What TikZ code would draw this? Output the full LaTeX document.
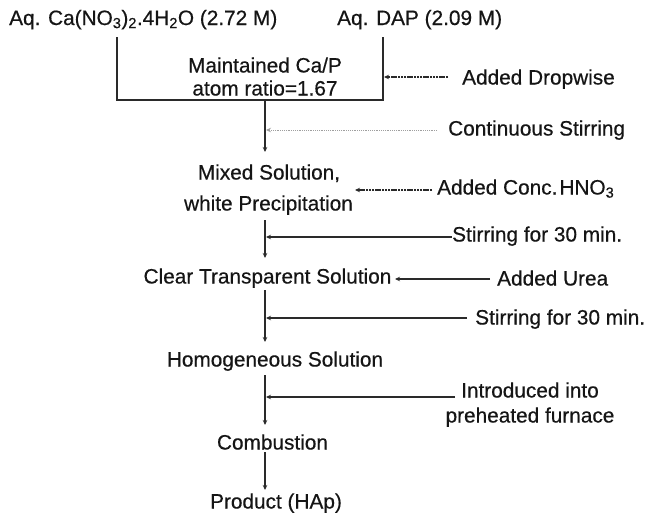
\documentclass[tikz,border=0pt]{standalone}
\usepackage{fontspec}
\setmainfont{Liberation Sans}[FakeBold=0.5]
\usetikzlibrary{arrows.meta}
\definecolor{ink}{HTML}{151515}
\definecolor{ln}{HTML}{2a2a2a}
\tikzset{
  lbl/.style={inner sep=0pt, anchor=base, text=ink, font=\fontsize{20.8}{24}\selectfont},
  lblw/.style={lbl, anchor=base west},
  conn/.style={draw=ln, line width=1.1pt},
  arr/.style={conn, -{Stealth[length=5pt,width=4.5pt]}},
  farr/.style={arr, dash pattern=on 2.5pt off 0.7pt},
  darr/.style={arr, draw=gray!75, line width=0.8pt, dash pattern=on 1.2pt off 1pt}
}
\begin{document}
\begin{tikzpicture}[x=1pt,y=-1pt]
\useasboundingbox (0,0) rectangle (645,515);
% top inputs
\node[lblw] (ca) at (9,25) {Aq. Ca(NO\textsubscript{3})\textsubscript{2}.4H\textsubscript{2}O (2.72 M)};
\node[lblw] (dap) at (337,25) {Aq. DAP (2.09 M)};
\node[lbl] (m1) at (265,72.5) {Maintained Ca/P};
\node[lbl] (m2) at (265,95.5) {atom ratio=1.67};
% column
\node[lbl] (mix1) at (269,179.5) {Mixed Solution,};
\node[lbl] (mix2) at (268.5,210.5) {white Precipitation};
\node[lbl] (clear) at (267.5,283.5) {Clear Transparent Solution};
\node[lbl] (homo) at (275,366.5) {Homogeneous Solution};
\node[lbl] (comb) at (272.5,449.5) {Combustion};
\node[lbl] (prod) at (276,508.5) {Product (HAp)};
% side labels
\node[lblw] (drop) at (462,84.5) {Added Dropwise};
\node[lblw] (cont) at (448,135.5) {Continuous Stirring};
\node[lblw] (hno) at (437,194.5) {Added Conc.\hspace{2pt}HNO\textsubscript{3}};
\node[lblw] (stir1) at (452,241.5) {Stirring for 30 min.};
\node[lblw] (urea) at (497,285.5) {Added Urea};
\node[lblw] (stir2) at (475,324.5) {Stirring for 30 min.};
\node[lbl] (intro1) at (530,397.5) {Introduced into};
\node[lbl] (intro2) at (530,422.5) {preheated furnace};
% coordinates
\coordinate (bL0) at (117,37);
\coordinate (bL1) at (117,100);
\coordinate (bR1) at (383,100);
\coordinate (bR0) at (383,37);
\coordinate (bC) at (265,100);
\coordinate (t1) at (265,152);
\coordinate (s2) at (265,220);
\coordinate (t2) at (265,258);
\coordinate (s3) at (265,290);
\coordinate (t3) at (265,342);
\coordinate (s4) at (265,375);
\coordinate (t4) at (265,425);
\coordinate (s5) at (265,452);
\coordinate (t5) at (265,490);
\coordinate (dropS) at (448,77);
\coordinate (dropT) at (384,77);
\coordinate (contS) at (437,130);
\coordinate (contT) at (266,130);
\coordinate (hnoS) at (432,190);
\coordinate (hnoT) at (355,190);
\coordinate (stir1S) at (452,237);
\coordinate (stir1T) at (266,237);
\coordinate (ureaS) at (490,279);
\coordinate (ureaT) at (395,279);
\coordinate (stir2S) at (467,318);
\coordinate (stir2T) at (266,318);
\coordinate (introS) at (455,397);
\coordinate (introT) at (266,397);
% box
\draw[conn, line width=1.3pt] (bL0) -- (bL1) -- (bR1) -- (bR0);
% main flow
\draw[arr] (bC) -- (t1);
\draw[arr] (s2) -- (t2);
\draw[arr] (s3) -- (t3);
\draw[arr] (s4) -- (t4);
\draw[arr] (s5) -- (t5);
% side arrows
\draw[farr] (dropS) -- (dropT);
\draw[darr] (contS) -- (contT);
\draw[farr] (hnoS) -- (hnoT);
\draw[arr] (stir1S) -- (stir1T);
\draw[arr] (ureaS) -- (ureaT);
\draw[arr] (stir2S) -- (stir2T);
\draw[arr] (introS) -- (introT);
\end{tikzpicture}
\end{document}
